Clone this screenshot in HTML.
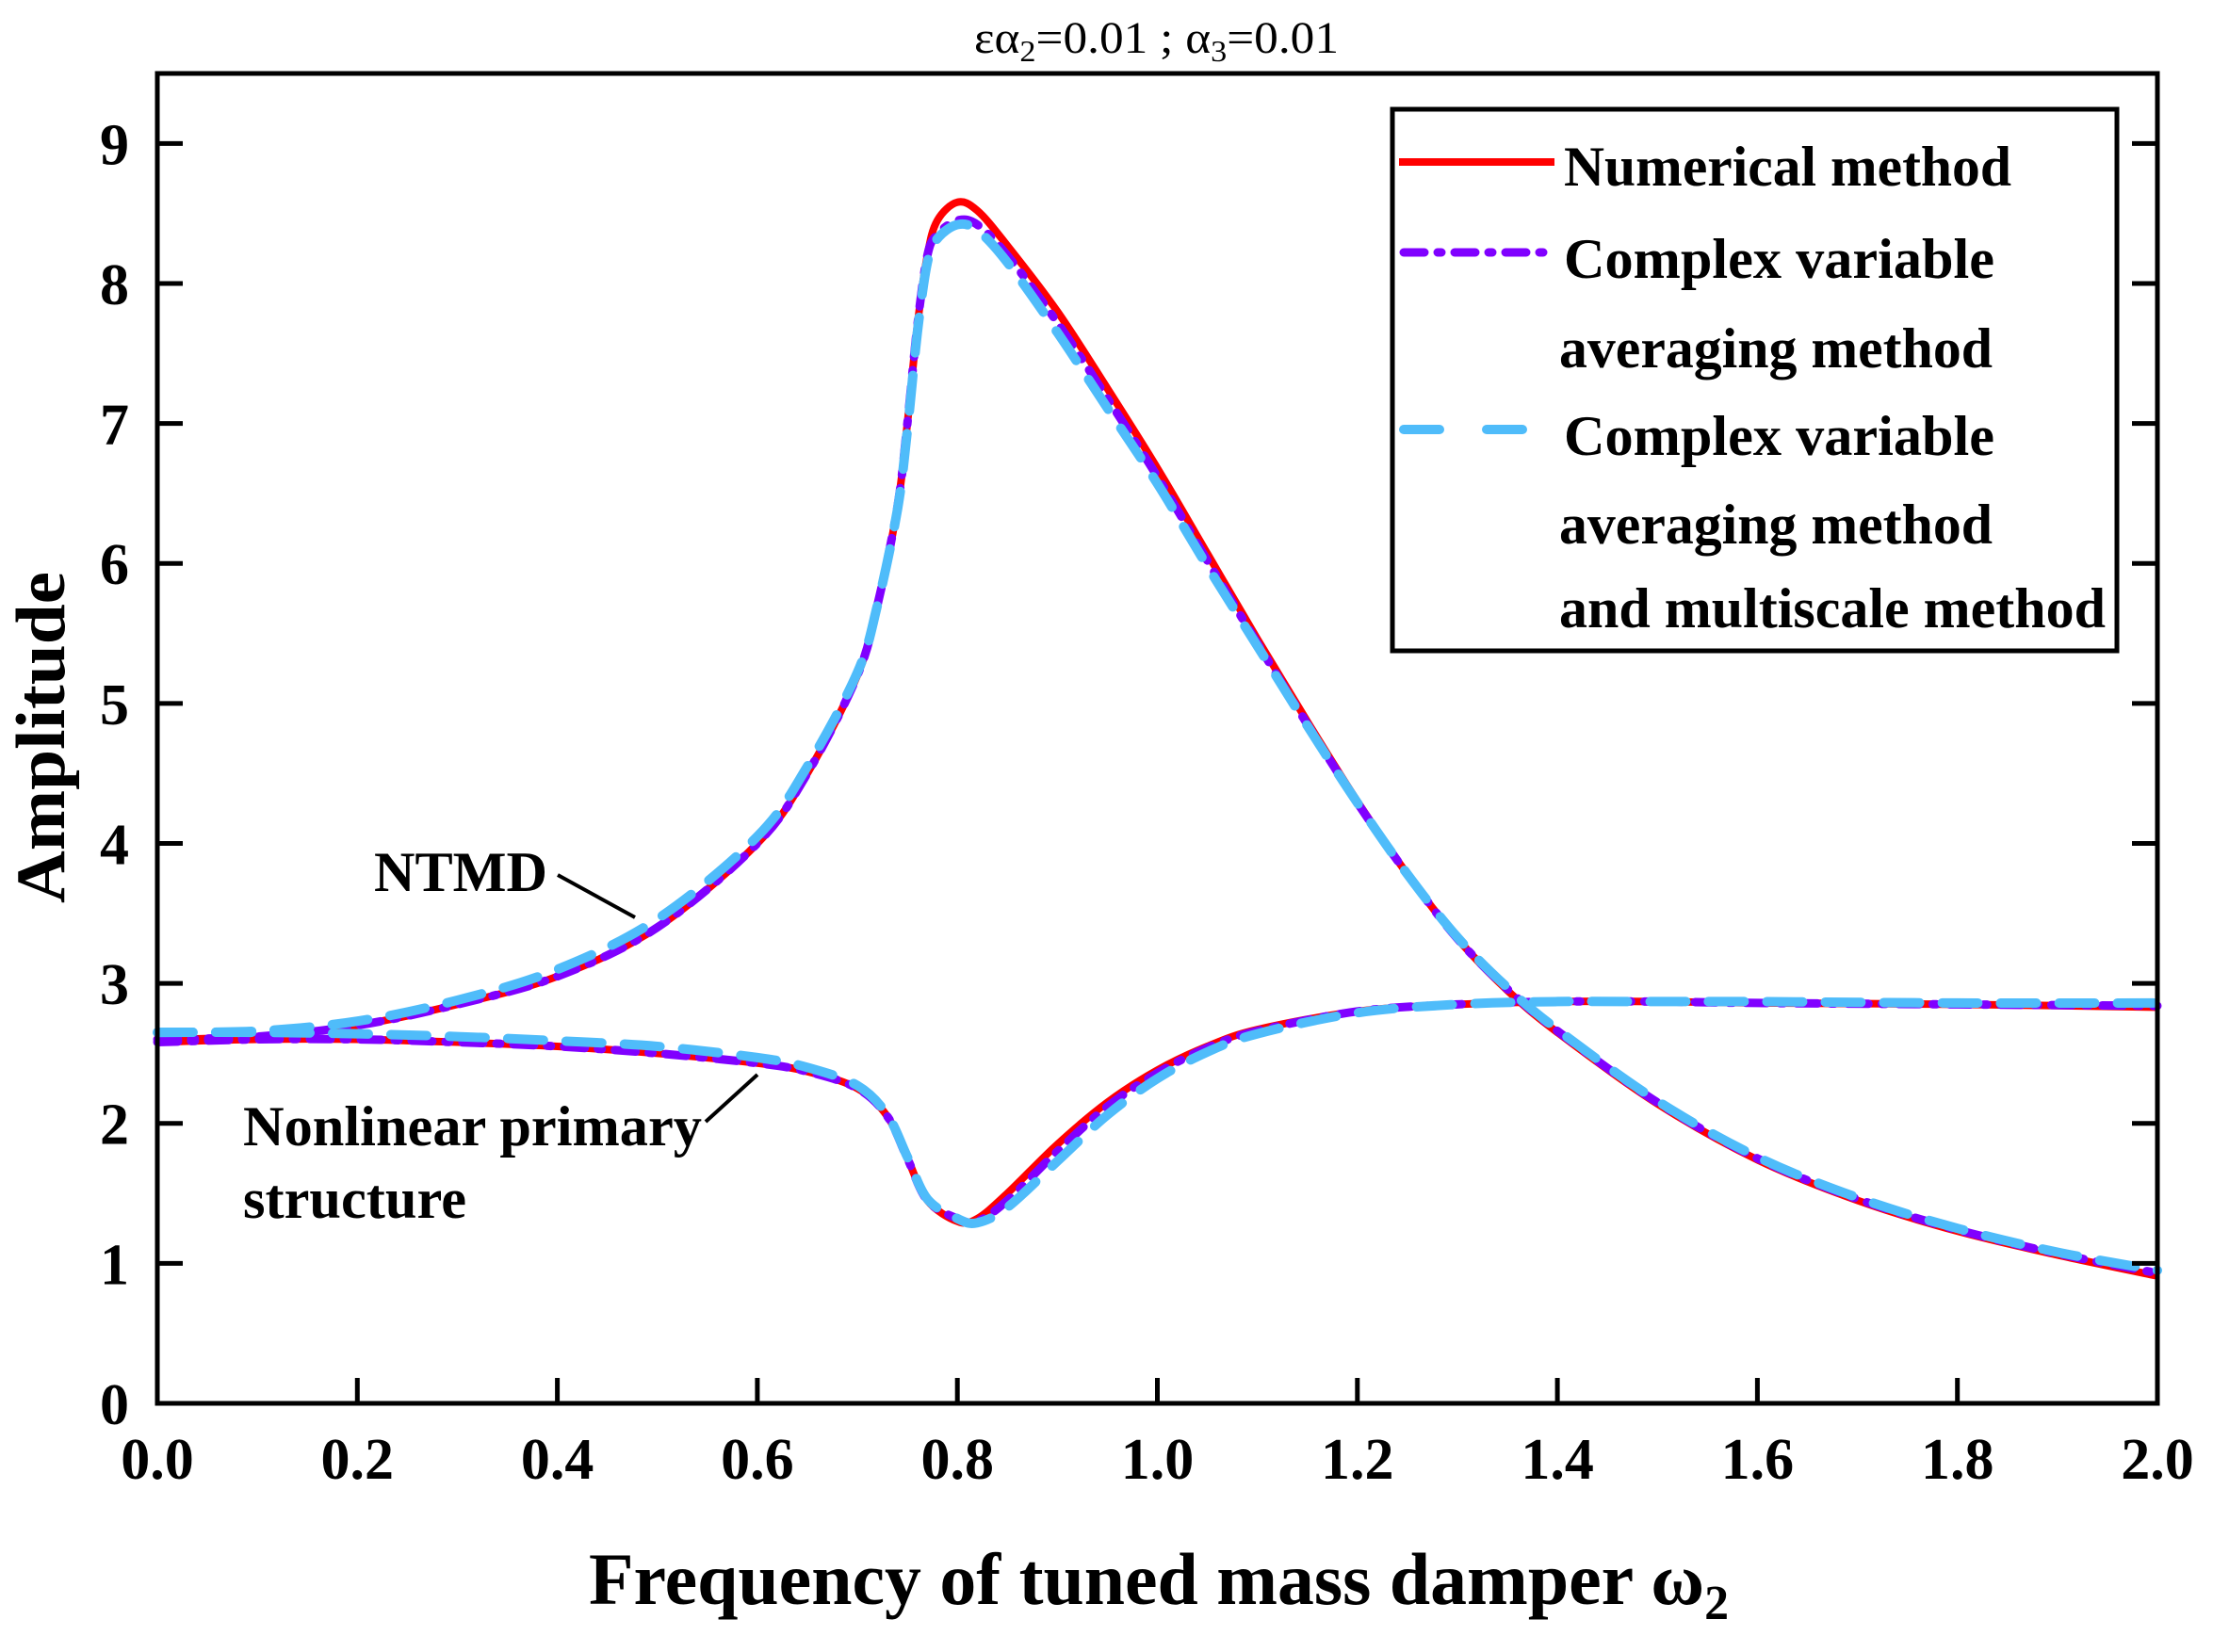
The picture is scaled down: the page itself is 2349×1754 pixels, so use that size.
<!DOCTYPE html>
<html><head><meta charset="utf-8"><style>
html,body{margin:0;padding:0;background:#fff;}
svg{display:block;}
text{font-family:"Liberation Serif",serif;}
</style></head><body>
<svg id="chart" width="2349" height="1754" viewBox="0 0 2349 1754" xmlns="http://www.w3.org/2000/svg">
<g id="plot"></g>
</svg>
<script>
const xTicks=[0,0.2,0.4,0.6,0.8,1.0,1.2,1.4,1.6,1.8,2.0];
const xTickLabels=["0.0","0.2","0.4","0.6","0.8","1.0","1.2","1.4","1.6","1.8","2.0"];
const yTicks=[0,1,2,3,4,5,6,7,8,9];
const ntmdX=[0,0.1,0.2,0.3,0.4,0.5,0.6,0.65,0.7,0.72,0.74,0.75,0.76,0.77,0.78,0.8,0.82,0.85,0.9,0.95,1.0,1.05,1.1,1.15,1.2,1.25,1.3,1.35,1.4,1.5,1.6,1.7,1.8,1.9,2.0];
const ntmdNum=[2.6,2.62,2.7,2.85,3.05,3.4,4.0,4.5,5.2,5.7,6.4,7.0,7.7,8.2,8.45,8.58,8.52,8.27,7.8,7.25,6.68,6.07,5.46,4.87,4.3,3.78,3.32,2.95,2.65,2.14,1.74,1.45,1.23,1.06,0.91];
const ntmdCva=[2.6,2.62,2.7,2.85,3.05,3.4,4.0,4.5,5.2,5.7,6.4,7.0,7.7,8.2,8.35,8.45,8.42,8.2,7.72,7.18,6.62,6.02,5.43,4.85,4.29,3.78,3.32,2.96,2.66,2.15,1.75,1.46,1.24,1.07,0.93];
const ntmdCvm=[2.65,2.66,2.73,2.88,3.1,3.46,4.05,4.55,5.22,5.7,6.38,6.95,7.65,8.15,8.32,8.42,8.38,8.15,7.65,7.11,6.57,5.98,5.41,4.84,4.29,3.78,3.33,2.97,2.67,2.16,1.76,1.47,1.25,1.08,0.95];
const primX=[0,0.1,0.2,0.3,0.4,0.5,0.6,0.65,0.7,0.73,0.75,0.77,0.8,0.82,0.85,0.9,0.95,1.0,1.05,1.1,1.2,1.3,1.4,1.5,1.6,1.8,2.0];
const primNum=[2.58,2.6,2.6,2.58,2.55,2.5,2.43,2.37,2.25,2.05,1.75,1.45,1.3,1.32,1.5,1.85,2.15,2.38,2.55,2.67,2.8,2.85,2.87,2.87,2.86,2.85,2.83];
const primCva=[2.58,2.6,2.6,2.58,2.55,2.5,2.43,2.37,2.25,2.05,1.75,1.45,1.32,1.3,1.45,1.8,2.12,2.36,2.54,2.66,2.8,2.85,2.87,2.87,2.86,2.85,2.84];
const primCvm=[2.65,2.65,2.64,2.62,2.59,2.55,2.47,2.4,2.27,2.06,1.76,1.46,1.32,1.29,1.4,1.73,2.06,2.32,2.51,2.64,2.79,2.85,2.87,2.87,2.87,2.86,2.86];

const L=167,R=2290,T=78,B=1490;
const sx=v=>L+(v-0)/(2-0)*(R-L);
const sy=v=>B-(v-0)/(9.5-0)*(B-T);
const NS="http://www.w3.org/2000/svg";
const svg=document.getElementById('chart');
function mk(tag,attrs,parent){const e=document.createElementNS(NS,tag);for(const k in attrs)e.setAttribute(k,attrs[k]);(parent||svg).appendChild(e);return e;}
function pathFor(xs,ys){
  const p=xs.map((x,i)=>[sx(x),sy(ys[i])]);
  let d="M"+p[0][0]+","+p[0][1];
  for(let i=0;i<p.length-1;i++){
    const p0=p[i-1]||p[i],p1=p[i],p2=p[i+1],p3=p[i+2]||p2;
    const c1=[p1[0]+(p2[0]-p0[0])/6,p1[1]+(p2[1]-p0[1])/6];
    const c2=[p2[0]-(p3[0]-p1[0])/6,p2[1]-(p3[1]-p1[1])/6];
    d+=` C${c1[0]},${c1[1]} ${c2[0]},${c2[1]} ${p2[0]},${p2[1]}`;
  }
  return d;
}
const plot=document.getElementById('plot');
const styles={num:{stroke:"#ff0000",w:8,dash:null,cap:"butt"},cva:{stroke:"#8000ff",w:9,dash:"22,14,4,14",cap:"round"},cvm:{stroke:"#4fbcfa",w:10,dash:"38,24",cap:"round"}};
function series(xs,ys,st,name){
  const e=mk('path',{d:pathFor(xs,ys),fill:"none",stroke:st.stroke,"stroke-width":st.w,"stroke-linecap":st.cap,"stroke-linejoin":"round"},plot);
  if(st.dash)e.setAttribute('stroke-dasharray',st.dash);
  
  
}
series(ntmdX,ntmdNum,styles.num,'ntmd-numerical-line');
series(primX,primNum,styles.num,'primary-numerical-line');
series(ntmdX,ntmdCva,styles.cva,'ntmd-averaging-line');
series(primX,primCva,styles.cva,'primary-averaging-line');
series(ntmdX,ntmdCvm,styles.cvm,'ntmd-multiscale-line');
series(primX,primCvm,styles.cvm,'primary-multiscale-line');

const fr=mk('rect',{x:L,y:T,width:R-L,height:B-T,fill:"none",stroke:"#000","stroke-width":5});


xTicks.forEach((v,i)=>{
  const x=sx(v);
  const t=mk('line',{x1:x,x2:x,y1:B,y2:B-27,stroke:"#000","stroke-width":5});
  
  
  const lb=mk('text',{x:x,y:B+80,"font-size":62,"font-weight":"bold","text-anchor":"middle"});
  lb.textContent=xTickLabels[i];
  
  
});
yTicks.forEach(v=>{
  const y=sy(v);
  const t=mk('line',{x1:L,x2:L+27,y1:y,y2:y,stroke:"#000","stroke-width":5});
  
  
  const t2=mk('line',{x1:R,x2:R-27,y1:y,y2:y,stroke:"#000","stroke-width":5});
  
  
  const lb=mk('text',{x:L-30,y:y+22,"font-size":62,"font-weight":"bold","text-anchor":"end"});
  lb.textContent=String(v);
  
  
});
</script>
<div style="position:absolute;left:0;top:0;width:2349px;height:1754px;pointer-events:none;">
<svg width="2349" height="1754" viewBox="0 0 2349 1754" xmlns="http://www.w3.org/2000/svg">
<text x="1034" y="56" font-size="48" textLength="387" lengthAdjust="spacingAndGlyphs" style="font-family:'Liberation Serif',serif">εα<tspan font-size="32" dy="9">2</tspan><tspan dy="-9">=0.01 ; α</tspan><tspan font-size="32" dy="9">3</tspan><tspan dy="-9">=0.01</tspan></text>
<text transform="translate(68,783) rotate(-90)" font-size="74" font-weight="bold" text-anchor="middle" textLength="352" lengthAdjust="spacingAndGlyphs" style="font-family:'Liberation Serif',serif">Amplitude</text>
<text x="625" y="1703" font-size="78" font-weight="bold" textLength="1210" lengthAdjust="spacingAndGlyphs" style="font-family:'Liberation Serif',serif">Frequency of tuned mass damper ω<tspan font-size="52" dy="16">2</tspan></text>
<g style="font-family:'Liberation Serif',serif" font-size="60" font-weight="bold">
<rect x="1478" y="116" width="769" height="575" fill="#fff" stroke="#000" stroke-width="5"/>
<line x1="1485" y1="172" x2="1650" y2="172" stroke="#ff0000" stroke-width="8"/>
<text x="1660" y="197" textLength="475" lengthAdjust="spacingAndGlyphs">Numerical method</text>
<line x1="1490" y1="268" x2="1645" y2="268" stroke="#8000ff" stroke-width="9" stroke-dasharray="22,14,4,14" stroke-linecap="round"/>
<text x="1660" y="295" textLength="457" lengthAdjust="spacingAndGlyphs">Complex variable</text>
<text x="1655" y="390" textLength="460" lengthAdjust="spacingAndGlyphs">averaging method</text>
<line x1="1490" y1="456" x2="1645" y2="456" stroke="#4fbcfa" stroke-width="10" stroke-dasharray="38,50" stroke-linecap="round"/>
<text x="1660" y="483" textLength="457" lengthAdjust="spacingAndGlyphs">Complex variable</text>
<text x="1655" y="577" textLength="460" lengthAdjust="spacingAndGlyphs">averaging method</text>
<text x="1655" y="666" textLength="580" lengthAdjust="spacingAndGlyphs">and multiscale method</text>
</g>
<g style="font-family:'Liberation Serif',serif" font-size="60" font-weight="bold">
<text x="397" y="946" textLength="184" lengthAdjust="spacingAndGlyphs">NTMD</text>
<line x1="592" y1="929" x2="674" y2="974" stroke="#000" stroke-width="4"/>
<text x="258" y="1216" textLength="487" lengthAdjust="spacingAndGlyphs">Nonlinear primary</text>
<text x="258" y="1293" textLength="237" lengthAdjust="spacingAndGlyphs">structure</text>
<line x1="749" y1="1191" x2="804" y2="1141" stroke="#000" stroke-width="4"/>
</g>
</svg></div>
</body></html>
